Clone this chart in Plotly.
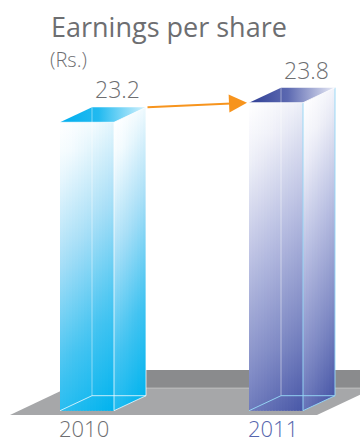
import plotly.graph_objects as go

# ---- data -------------------------------------------------------------
years = ["2010", "2011"]
eps = [23.2, 23.8]
year_label_colors = ["#6d6e71", "#5566ae"]

title_text = "Earnings per share"
unit_text = "(Rs.)"

# colour ramps for each bar (t = 0 light corner -> t = 1 deep corner)
face_ramps = [
    [(0.0, "#ffffff"), (0.12, "#f3fbfe"), (0.40, "#a9dff7"), (0.70, "#45c4f1"), (1.0, "#00b3ee")],
    [(0.0, "#ffffff"), (0.15, "#f1f2f9"), (0.45, "#b7bde1"), (0.75, "#7e89c4"), (1.0, "#4857a7")],
]
top_ramps = [
    [(0.0, "#00aeef"), (0.45, "#22baf0"), (1.0, "#d5f2fd")],
    [(0.0, "#2f3f95"), (0.45, "#5c69b1"), (1.0, "#e8eaf6")],
]
edge_colors = ["rgba(255,255,255,0.75)", "rgba(150,215,245,0.95)"]

# ---- geometry of the drawing -----------------------------------------
W, H = 360, 443
PX_PER_CAT = 189.0      # pixels between the two categories
CAT0_PX = 87.0          # pixel centre of the first bar's front face
PX_PER_UNIT = 32.67     # pixels per Rs.
FLOOR = 14.372          # value at which the bars stand on the floor
FLOOR_PX = 410.7


def xu(px):
    return px / PX_PER_CAT


def yu(px):
    return px / PX_PER_UNIT


x_range = [(0 - CAT0_PX) / PX_PER_CAT, (W - CAT0_PX) / PX_PER_CAT]
y_range = [FLOOR - (H - FLOOR_PX) / PX_PER_UNIT, FLOOR + FLOOR_PX / PX_PER_UNIT]

HALF_W = xu(27)
DEPTH_X = xu(32)
DEPTH_Y = yu(15)


def hex_rgb(h):
    h = h.lstrip("#")
    return tuple(int(h[i:i + 2], 16) for i in (0, 2, 4))


def ramp_color(ramp, t):
    t = min(max(t, 0.0), 1.0)
    for (p0, c0), (p1, c1) in zip(ramp[:-1], ramp[1:]):
        if t <= p1:
            f = 0 if p1 == p0 else (t - p0) / (p1 - p0)
            a, b = hex_rgb(c0), hex_rgb(c1)
            return "rgb(%d,%d,%d)" % tuple(round(a[k] + (b[k] - a[k]) * f) for k in range(3))
    return ramp[-1][1]


fig = go.Figure()


def poly(xs, ys, **kw):
    fig.add_trace(go.Scatter(x=list(xs) + [xs[0]], y=list(ys) + [ys[0]], mode="lines",
                             fill="toself", line=dict(width=0), hoverinfo="skip", **kw))


def seg(xs, ys, color, width=1):
    fig.add_trace(go.Scatter(x=xs, y=ys, mode="lines", line=dict(color=color, width=width),
                             hoverinfo="skip"))


def shade_face(x_left, x_right, bottom_at, top_at, ramp, n, slope=1.24):
    """Fill a face with a diagonal gradient built from narrow vertical strips."""
    wpx = (x_right - x_left) * PX_PER_CAT
    for j in range(n):
        xa = x_left + (x_right - x_left) * j / n
        xb = x_left + (x_right - x_left) * min(j + 1.6, n) / n
        xm = x_left + (x_right - x_left) * (j + 0.5) / n
        um = (j + 0.5) / n
        y0, y1 = bottom_at(xm), top_at(xm)
        hpx = (y1 - y0) * PX_PER_UNIT
        stops = []
        for k in range(11):
            p = k / 10
            t = (slope * um * wpx + (1 - p) * hpx) / (slope * wpx + hpx)
            stops.append([p, ramp_color(ramp, t)])
        poly([xa, xb, xb, xa], [bottom_at(xa), bottom_at(xb), top_at(xb), top_at(xa)],
             fillgradient=dict(type="vertical", colorscale=stops, start=y0, stop=y1))


# ---- floor slab ------------------------------------------------------
first_left = 0 - HALF_W
last_right = 1 + HALF_W
g_front = FLOOR - yu(4.3)
g_mid = FLOOR + yu(22.7)
g_back = FLOOR + yu(40.7)
slant = xu(57)
poly([first_left + xu(40), last_right + xu(60), last_right + xu(60), first_left + xu(40)],
     [g_mid, g_mid, g_back, g_back], fillcolor="#8a8b8d")
poly([first_left - xu(50), last_right + xu(14), last_right + xu(14) + slant, first_left - xu(50) + slant],
     [g_front, g_front, g_mid, g_mid], fillcolor="#a6a7a9")
seg([first_left + xu(40), last_right + xu(60)], [g_mid, g_mid], "rgba(255,255,255,0.35)", 1)

# ---- glass bars ------------------------------------------------------
for i, v in enumerate(eps):
    xl, xr = i - HALF_W, i + HALF_W
    ramp = face_ramps[i]
    # front face
    shade_face(xl, xr, lambda x: FLOOR, lambda x: v, ramp, 18)
    # side face (parallelogram, sloping back)
    shade_face(xr, xr + DEPTH_X,
               lambda x, xr=xr: FLOOR + (x - xr) / DEPTH_X * DEPTH_Y,
               lambda x, xr=xr, v=v: v + (x - xr) / DEPTH_X * DEPTH_Y,
               ramp, 11, slope=1.6)
    # top face
    poly([xl, xr, xr + DEPTH_X, xl + DEPTH_X], [v, v, v + DEPTH_Y, v + DEPTH_Y],
         fillgradient=dict(type="horizontal", start=xl, stop=xr + DEPTH_X,
                           colorscale=[[p, c] for p, c in top_ramps[i]]))
    ec = edge_colors[i]
    # hidden edges seen through the glass
    seg([xl + DEPTH_X, xl + DEPTH_X], [FLOOR + DEPTH_Y, v + DEPTH_Y], "rgba(255,255,255,0.45)")
    seg([xl, xl + DEPTH_X, xr + DEPTH_X], [FLOOR, FLOOR + DEPTH_Y, FLOOR + DEPTH_Y], ec)
    # outer edges
    seg([xr, xr], [FLOOR, v], ec)
    seg([xr + DEPTH_X, xr + DEPTH_X], [FLOOR + DEPTH_Y, v + DEPTH_Y], ec)
    seg([xl, xr, xr + DEPTH_X], [v, v, v + DEPTH_Y], "rgba(255,255,255,0.8)")
    seg([xr, xr + DEPTH_X], [FLOOR, FLOOR + DEPTH_Y], ec)

    # value label above the bar
    fig.add_annotation(x=xr + xu(3), y=v + DEPTH_Y, text=f"{v:.1f}", showarrow=False,
                       xanchor="center", yanchor="bottom", yshift=0,
                       font=dict(family="Open Sans", size=23, weight=300, color="#6d6e71"))
    # category label under the bar
    fig.add_annotation(x=i - xu(3), y=FLOOR, text=years[i], showarrow=False,
                       xanchor="center", yanchor="top", yshift=-1, borderpad=0,
                       font=dict(family="Open Sans", size=22, weight=300,
                                 color=year_label_colors[i]))

# growth arrow from the 2010 bar top to the 2011 bar top
fig.add_annotation(x=1 - HALF_W - xu(2), y=eps[1], ax=0 + HALF_W + DEPTH_X, ay=eps[0] + DEPTH_Y,
                   xref="x", yref="y", axref="x", ayref="y", text="", showarrow=True,
                   arrowhead=2, arrowsize=1.8, arrowwidth=2, arrowcolor="#f7941d", standoff=0)

# title and unit
fig.add_annotation(x=49 / W, y=1 - 6 / H, xref="paper", yref="paper", text=title_text,
                   showarrow=False, xanchor="left", yanchor="top",
                   font=dict(family="Open Sans", size=27, color="#6d6e71"))
fig.add_annotation(x=48 / W, y=1 - 44 / H, xref="paper", yref="paper", text=unit_text,
                   showarrow=False, xanchor="left", yanchor="top",
                   font=dict(family="Open Sans", size=20, weight=300, color="#6d6e71"))

fig.update_layout(
    width=W, height=H, margin=dict(l=0, r=0, t=0, b=0),
    paper_bgcolor="white", plot_bgcolor="white", showlegend=False,
    xaxis=dict(range=x_range, visible=False, fixedrange=True),
    yaxis=dict(range=y_range, visible=False, fixedrange=True),
)

fig.write_html("out.html")
